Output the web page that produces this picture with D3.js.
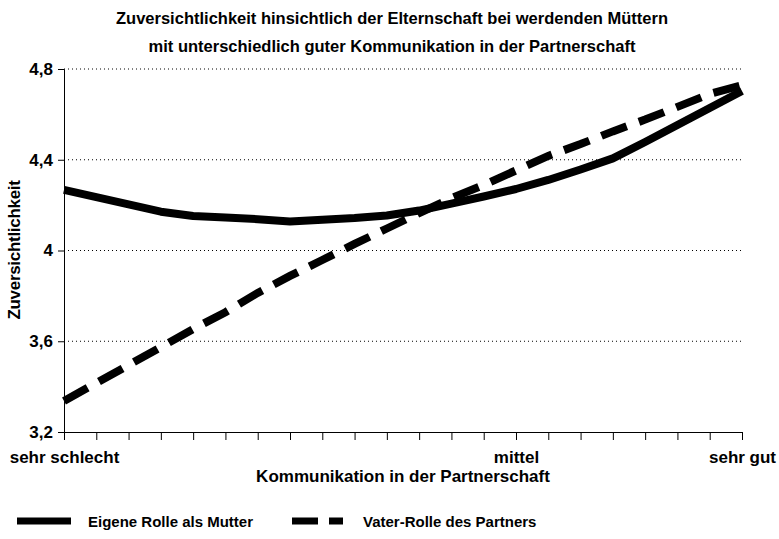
<!DOCTYPE html>
<html>
<head>
<meta charset="utf-8">
<script src="https://cdn.jsdelivr.net/npm/d3@7"></script>
<style>
  body { margin: 0; background: #fff; }
  svg { font-family: "Liberation Sans", Arial, sans-serif; font-weight: bold; }
</style>
</head>
<body>
<svg id="chart" width="779" height="539"></svg>
<script>
// --- Données ---
const categories = d3.range(22); // 22 Stufen der Kommunikation
const catLabels = { 0: "sehr schlecht", 14: "mittel", 21: "sehr gut" };
const mutterWerte = [4.267, 4.235, 4.203, 4.171, 4.152, 4.145, 4.138, 4.128, 4.136, 4.143, 4.154,
                     4.176, 4.207, 4.238, 4.271, 4.311, 4.357, 4.406, 4.478, 4.553, 4.628, 4.703];
const vaterWerte = [3.337, 3.416, 3.495, 3.574, 3.654, 3.728, 3.813, 3.888, 3.958, 4.029, 4.097,
                    4.165, 4.231, 4.289, 4.353, 4.417, 4.469, 4.525, 4.577, 4.633, 4.690, 4.729];
const yTicks = [3.2, 3.6, 4.0, 4.4, 4.8];
const titleLines = ["Zuversichtlichkeit hinsichtlich der Elternschaft bei werdenden Müttern",
                    "mit unterschiedlich guter Kommunikation in der Partnerschaft"];

const svg = d3.select("#chart");

// --- Échelles ---
const x = d3.scaleLinear().domain([0, 21]).range([64, 742]);
const y = d3.scaleLinear().domain([3.2, 4.8]).range([432, 69]);
const fmt = d => d3.format(".1f")(d).replace(".", ",").replace(",0", "");

// Titel
svg.append("g").selectAll("text")
  .data(titleLines).join("text")
  .attr("x", 392).attr("y", (d, i) => 24 + i * 28)
  .attr("text-anchor", "middle").attr("font-size", 16.5)
  .text(d => d);

// Gitterlinien (gepunktet)
svg.append("g").selectAll("line")
  .data(yTicks.filter(d => d > 3.2)).join("line")
  .attr("x1", x(0)).attr("x2", x(21))
  .attr("y1", d => y(d)).attr("y2", d => y(d))
  .attr("stroke", "#000").attr("stroke-width", 1)
  .attr("stroke-dasharray", "1,3");

// Y-Achse
const yAxis = svg.append("g")
  .attr("transform", `translate(${x(0)},0)`)
  .call(d3.axisLeft(y).tickValues(yTicks).tickSize(6).tickPadding(5).tickFormat(fmt));
yAxis.selectAll("text").attr("font-size", 17).attr("font-family", null).attr("font-weight", "bold").attr("fill", "#000");

// X-Achse
const xAxis = svg.append("g")
  .attr("transform", `translate(0,${y(3.2)})`)
  .call(d3.axisBottom(x).tickValues(categories).tickSize(8).tickFormat(d => catLabels[d] || ""));
xAxis.selectAll("text").attr("font-size", 17).attr("font-family", null).attr("font-weight", "bold")
  .attr("fill", "#000").attr("dy", null).attr("y", 31);
svg.selectAll(".domain").attr("stroke", "#000");
svg.selectAll(".tick line").attr("stroke", "#000");

// Achsentitel
svg.append("text")
  .attr("x", 403).attr("y", 482)
  .attr("text-anchor", "middle").attr("font-size", 17)
  .text("Kommunikation in der Partnerschaft");
svg.append("text")
  .attr("transform", `translate(20,250) rotate(-90)`)
  .attr("text-anchor", "middle").attr("font-size", 17).attr("letter-spacing", -0.3)
  .text("Zuversichtlichkeit");

// Linien
const line = d3.line().x((d, i) => x(i)).y(d => y(d));
svg.append("path")
  .datum(mutterWerte)
  .attr("d", line).attr("fill", "none")
  .attr("stroke", "#000").attr("stroke-width", 8).attr("stroke-linejoin", "round");
svg.append("path")
  .datum(vaterWerte)
  .attr("d", line).attr("fill", "none")
  .attr("stroke", "#000").attr("stroke-width", 8)
  .attr("stroke-dasharray", "27,13");

// Legende
const legend = svg.append("g").attr("transform", "translate(0,527)");
legend.append("line").attr("x1", 17).attr("x2", 71).attr("y1", -6).attr("y2", -6)
  .attr("stroke", "#000").attr("stroke-width", 7);
legend.append("text").attr("x", 88).attr("y", 0).attr("font-size", 15).text("Eigene Rolle als Mutter");
legend.append("line").attr("x1", 292).attr("x2", 343).attr("y1", -6).attr("y2", -6)
  .attr("stroke", "#000").attr("stroke-width", 7).attr("stroke-dasharray", "26,11");
legend.append("text").attr("x", 363).attr("y", 0).attr("font-size", 15).text("Vater-Rolle des Partners");
</script>
</body>
</html>
